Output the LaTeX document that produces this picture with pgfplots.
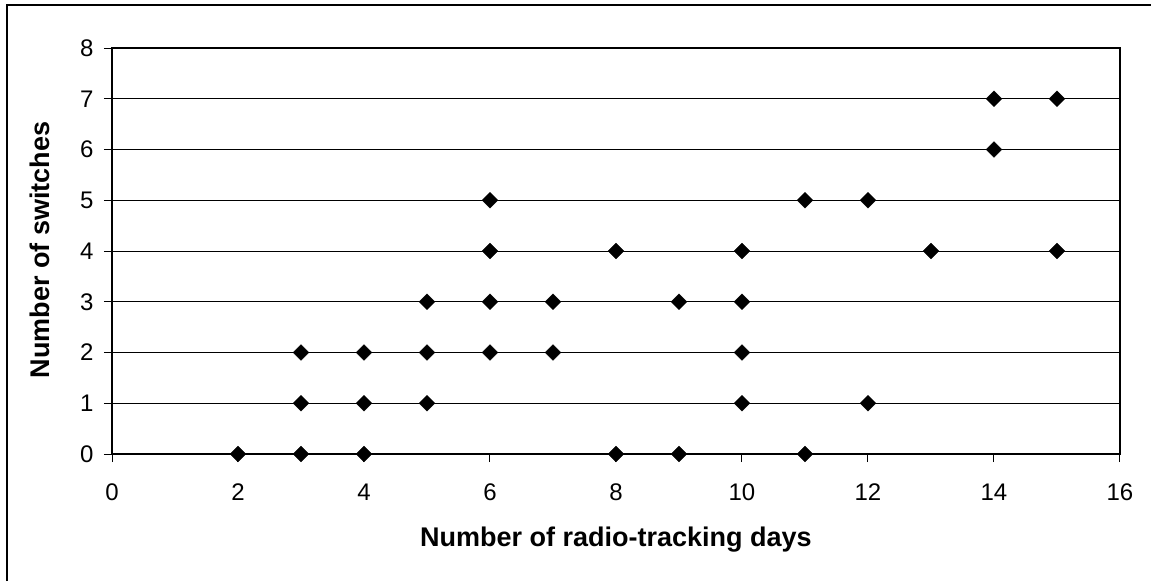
\documentclass[border=0pt]{standalone}
\usepackage{pgfplots}
\pgfplotsset{compat=1.18}
\usepackage{fontspec}
\setmainfont{Liberation Sans}
\begin{document}
\begin{tikzpicture}[x=1pt,y=1pt]
\useasboundingbox (0,0) rectangle (1151,581);
\draw[black, line width=1.2pt] (7,0) -- (7,576) -- (1151,576);
\begin{axis}[
  at={(112pt,127pt)}, anchor=south west,
  scale only axis, width=1008pt, height=406pt,
  xmin=0, xmax=16, ymin=0, ymax=8,
  xtick={0,2,...,16}, ytick={0,1,...,8},
  ymajorgrids, major grid style={black, line width=0.9pt},
  axis line style={line width=2pt},
  tick align=outside, major tick length=8pt,
  tick style={black, line width=1pt},
  xtick pos=left, ytick pos=left,
  /pgf/number format/assume math mode=true,
  tick label style={font=\fontsize{24}{28}\selectfont},
  xticklabel style={yshift=-18pt},
  yticklabel style={xshift=-7pt},
  label style={font=\bfseries\fontsize{27}{32}\selectfont},
  xlabel={Number of radio-tracking days},
  ylabel={Number of switches},
  xlabel style={at={(axis description cs:0.5,-0.212)}, anchor=center},
  ylabel style={at={(axis description cs:-0.0715,0.502)}, anchor=center, rotate=0},
  clip=false,
]
\addplot[only marks, mark=square*, mark size=5.6pt, mark options={rotate=45, fill=black, draw=black}] coordinates {
(2,0)
(3,0) (3,1) (3,2)
(4,0) (4,1) (4,2)
(5,1) (5,2) (5,3)
(6,2) (6,3) (6,4) (6,5)
(7,2) (7,3)
(8,0) (8,4)
(9,0) (9,3)
(10,1) (10,2) (10,3) (10,4)
(11,0) (11,5)
(12,1) (12,5)
(13,4)
(14,6) (14,7)
(15,4) (15,7)
};
\end{axis}
\end{tikzpicture}
\end{document}
